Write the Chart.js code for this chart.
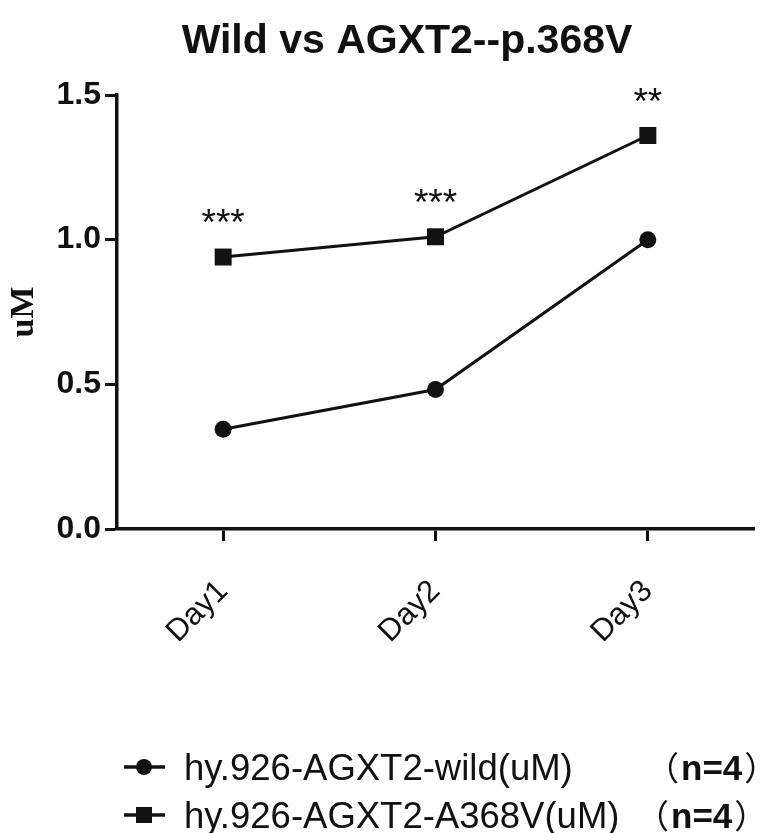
<!DOCTYPE html>
<html><head><meta charset="utf-8">
<script src="https://cdn.jsdelivr.net/npm/chart.js@4.4.1/dist/chart.umd.min.js"></script>
<style>html,body{margin:0;padding:0;background:#fff;overflow:hidden;width:760px;height:833px}canvas{display:block}</style>
</head><body>
<canvas id="c" width="766" height="833"></canvas>
<script>
const categories = ['Day1', 'Day2', 'Day3'];
const wildValues = [0.345, 0.482, 1.0];
const mutantValues = [0.94, 1.01, 1.36];
const significance = ['***', '***', '**'];
const yTickValues = [0, 0.5, 1.0, 1.5];
const yTickLabels = ['0.0', '0.5', '1.0', '1.5'];
const seriesLabels = ['hy.926-AGXT2-wild(uM)', 'hy.926-AGXT2-A368V(uM)'];
const sampleSizes = ['n=4', 'n=4'];
const chartTitle = 'Wild vs AGXT2--p.368V';
const yAxisTitle = 'uM';

const INK = '#111';

const titlePlugin = {
  id: 'customTitle',
  afterDraw(chart) {
    const ctx = chart.ctx;
    ctx.save();
    ctx.fillStyle = INK;
    ctx.font = 'bold 41px "Liberation Sans", Arial, sans-serif';
    ctx.textAlign = 'center';
    ctx.textBaseline = 'alphabetic';
    ctx.fillText(chartTitle, 407, 53);
    ctx.restore();
  }
};

const starsPlugin = {
  id: 'stars',
  afterDatasetsDraw(chart) {
    const ctx = chart.ctx;
    const meta = chart.getDatasetMeta(1);
    ctx.save();
    ctx.fillStyle = INK;
    ctx.font = '37px "Liberation Sans", Arial, sans-serif';
    ctx.textAlign = 'center';
    ctx.textBaseline = 'alphabetic';
    meta.data.forEach((pt, i) => {
      ctx.fillText(significance[i], pt.x, pt.y - 22);
    });
    ctx.restore();
  }
};

const legendPlugin = {
  id: 'customLegend',
  afterDraw(chart) {
    const ctx = chart.ctx;
    const nStarts = [681, 671];
    chart.data.datasets.forEach((ds, i) => {
      const base = 780 + i * 48;
      const cy = base - 13;
      ctx.save();
      ctx.strokeStyle = INK;
      ctx.fillStyle = INK;
      ctx.lineWidth = 3.5;
      ctx.beginPath();
      ctx.moveTo(124, cy);
      ctx.lineTo(165, cy);
      ctx.stroke();
      if (ds.pointStyle === 'rect') {
        ctx.fillRect(144 - 8, cy - 8, 16, 16);
      } else {
        ctx.beginPath();
        ctx.arc(144, cy, 8, 0, Math.PI * 2);
        ctx.fill();
      }
      ctx.textBaseline = 'alphabetic';
      ctx.textAlign = 'left';
      ctx.font = '36.5px "Liberation Sans", Arial, sans-serif';
      ctx.fillText(ds.label, 184, base);
      const nx = nStarts[i];
      ctx.font = '33px "Noto Sans CJK SC", sans-serif';
      ctx.textAlign = 'right';
      ctx.fillText('（', nx - 2, base);
      ctx.textAlign = 'left';
      ctx.font = 'bold 35px "Liberation Sans", Arial, sans-serif';
      ctx.fillText(sampleSizes[i], nx, base);
      const nw = ctx.measureText(sampleSizes[i]).width;
      ctx.font = '33px "Noto Sans CJK SC", sans-serif';
      ctx.fillText('）', nx + nw + 2, base);
      ctx.restore();
    });
  }
};

new Chart(document.getElementById('c'), {
  type: 'line',
  data: {
    labels: categories,
    datasets: [
      {
        label: seriesLabels[0],
        data: wildValues,
        borderColor: INK,
        backgroundColor: INK,
        pointBackgroundColor: INK,
        borderWidth: 3,
        pointStyle: 'circle',
        pointRadius: 8.5,
        pointBorderWidth: 0,
        tension: 0,
        fill: false
      },
      {
        label: seriesLabels[1],
        data: mutantValues,
        borderColor: INK,
        backgroundColor: INK,
        pointBackgroundColor: INK,
        borderWidth: 3,
        pointStyle: 'rect',
        pointRadius: 12,
        pointBorderWidth: 0,
        tension: 0,
        fill: false
      }
    ]
  },
  options: {
    responsive: false,
    animation: false,
    devicePixelRatio: 1,
    layout: { padding: { top: 95, left: 0, right: 0, bottom: 154 } },
    plugins: {
      legend: { display: false },
      tooltip: { enabled: false },
      title: { display: false }
    },
    scales: {
      x: {
        type: 'category',
        offset: true,
        grid: { display: true, drawOnChartArea: false, offset: false, tickLength: 12, tickWidth: 3, tickColor: INK },
        border: { display: true, width: 3.5, color: INK },
        ticks: {
          minRotation: 45, maxRotation: 45, padding: 32, color: INK,
          font: { family: '"Liberation Sans", Arial, sans-serif', size: 31 }
        },
        afterFit(s) { s.height = 150; }
      },
      y: {
        min: 0, max: 1.5,
        afterBuildTicks(s) { s.ticks = yTickValues.map(v => ({ value: v })); },
        ticks: {
          callback: (v, i) => yTickLabels[i],
          padding: 4, color: INK,
          font: { family: '"Liberation Sans", Arial, sans-serif', size: 32, weight: 'bold' }
        },
        grid: { drawOnChartArea: false, tickLength: 12, tickWidth: 3, tickColor: INK },
        border: { display: true, width: 3.5, color: INK },
        title: {
          display: true, text: yAxisTitle, color: INK,
          font: { family: '"Liberation Serif", "Times New Roman", serif', size: 34, weight: 'bold' },
          padding: { top: 4, bottom: 0 }
        },
        afterFit(s) { s.width = 117; }
      }
    }
  },
  plugins: [titlePlugin, starsPlugin, legendPlugin]
});
</script>
</body></html>
